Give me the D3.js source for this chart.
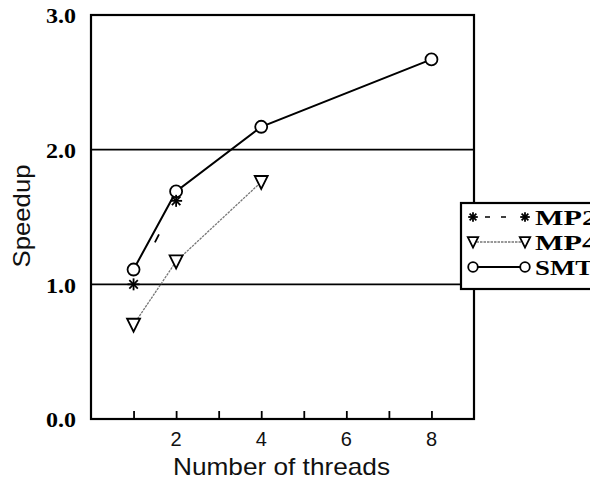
<!DOCTYPE html>
<html>
<head>
<meta charset="utf-8">
<script src="https://cdn.jsdelivr.net/npm/d3@7"></script>
<style>
  html, body { margin: 0; padding: 0; background: #fff; overflow: hidden; }
  svg { display: block; }
</style>
</head>
<body>
<svg id="chart" width="590" height="481"></svg>
<script>
// Speedup versus number of threads for three configurations
const tickValues = [1, 2, 3, 4, 5, 6, 7, 8];
const tickLabels = ["2", "4", "6", "8"];
const yTickLabels = ["0.0", "1.0", "2.0", "3.0"];
const gridValues = [1, 2];

const mp2Threads = [1, 2];
const mp2Speedup = [1.00, 1.62];
const mp4Threads = [1, 2, 4];
const mp4Speedup = [0.70, 1.17, 1.76];
const smtThreads = [1, 2, 4, 8];
const smtSpeedup = [1.11, 1.69, 2.17, 2.67];

const seriesNames = ["MP2", "MP4", "SMT"];

const svg = d3.select("#chart");
const plotLeft = 91, plotRight = 474, plotTop = 15, plotBottom = 419;

const x = d3.scaleLinear().domain([0, 9]).range([plotLeft, plotRight]);
const y = d3.scaleLinear().domain([0, 3]).range([plotBottom, plotTop]);

const serif = "'Liberation Serif', 'Times New Roman', serif";
const sans = "'Liberation Sans', Arial, Helvetica, sans-serif";

// gridlines at whole speedup values
svg.append("g").selectAll("line").data(gridValues).join("line")
  .attr("x1", plotLeft).attr("x2", plotRight)
  .attr("y1", d => y(d)).attr("y2", d => y(d))
  .attr("stroke", "#000").attr("stroke-width", 1.6);

// x axis: short upward ticks, labels on even counts
const xAxis = d3.axisBottom(x).tickValues(tickValues).tickSize(-8).tickFormat("");
const gx = svg.append("g").attr("transform", `translate(0,${plotBottom})`).call(xAxis);
gx.select(".domain").remove();
gx.selectAll(".tick line").attr("stroke", "#000").attr("stroke-width", 1.8);

svg.append("g").selectAll("text").data(tickLabels).join("text")
  .attr("x", d => x(+d))
  .attr("y", 446)
  .attr("text-anchor", "middle")
  .attr("font-family", sans)
  .attr("font-size", 20)
  .attr("fill", "#111")
  .text(d => d);

// y tick labels (bold serif)
const yAxis = d3.axisLeft(y).tickValues(yTickLabels.map(Number)).tickSize(0)
  .tickFormat(d => d3.format(".1f")(d));
const gy = svg.append("g").attr("transform", `translate(${plotLeft - 15},0)`).call(yAxis);
gy.select(".domain").remove();
gy.selectAll(".tick text")
  .attr("x", 0)
  .attr("dy", "0.35em")
  .attr("text-anchor", "end")
  .attr("font-family", serif)
  .attr("font-weight", "bold")
  .attr("font-size", 22)
  .attr("fill", "#000")
  .attr("textLength", 30)
  .attr("lengthAdjust", "spacingAndGlyphs");

// frame
svg.append("rect")
  .attr("x", plotLeft).attr("y", plotTop)
  .attr("width", plotRight - plotLeft).attr("height", plotBottom - plotTop)
  .attr("fill", "none").attr("stroke", "#000").attr("stroke-width", 2.2);

// axis titles
svg.append("text")
  .attr("x", (173 + 390) / 2).attr("y", 475)
  .attr("text-anchor", "middle")
  .attr("font-family", sans).attr("font-size", 24)
  .attr("fill", "#111")
  .attr("textLength", 217).attr("lengthAdjust", "spacingAndGlyphs")
  .text("Number of threads");

svg.append("text")
  .attr("transform", "translate(30,216) rotate(-90)")
  .attr("text-anchor", "middle")
  .attr("font-family", sans).attr("font-size", 24)
  .attr("fill", "#111")
  .attr("textLength", 103).attr("lengthAdjust", "spacingAndGlyphs")
  .text("Speedup");

// marker drawing helpers (s = scale factor)
function asterisk(g, cx, cy, s = 1) {
  const r = 6 * s;
  const a = g.append("g").attr("transform", `translate(${cx},${cy})`);
  [0, 45, 90, 135].forEach(ang => {
    const t = ang * Math.PI / 180;
    a.append("line")
      .attr("x1", -r * Math.cos(t)).attr("y1", -r * Math.sin(t))
      .attr("x2", r * Math.cos(t)).attr("y2", r * Math.sin(t))
      .attr("stroke", "#000").attr("stroke-width", 1.8);
  });
}
function triangle(g, cx, cy, s = 1) {
  g.append("path")
    .attr("d", `M${cx - 6.5 * s},${cy - 6 * s} L${cx + 6.5 * s},${cy - 6 * s} L${cx},${cy + 7 * s} Z`)
    .attr("fill", "#fff").attr("stroke", "#000").attr("stroke-width", 1.8)
    .attr("stroke-linejoin", "miter");
}
function circle(g, cx, cy, s = 1) {
  g.append("circle").attr("cx", cx).attr("cy", cy).attr("r", 6 * s)
    .attr("fill", "#fff").attr("stroke", "#000").attr("stroke-width", 1.8);
}

const line = d3.line().x(d => x(d[0])).y(d => y(d[1]));
const zip = (a, b) => a.map((v, i) => [v, b[i]]);

const plot = svg.append("g");

// MP4: thin grey dotted line
plot.append("path").datum(zip(mp4Threads, mp4Speedup))
  .attr("d", line).attr("fill", "none")
  .attr("stroke", "#777").attr("stroke-width", 1.3)
  .attr("stroke-dasharray", "2.5 1");

// SMT: solid black line
plot.append("path").datum(zip(smtThreads, smtSpeedup))
  .attr("d", line).attr("fill", "none")
  .attr("stroke", "#000").attr("stroke-width", 2);

// MP2: sparse dashed line
plot.append("path").datum(zip(mp2Threads, mp2Speedup))
  .attr("d", line).attr("fill", "none")
  .attr("stroke", "#000").attr("stroke-width", 1.8)
  .attr("stroke-dasharray", "0 47 9 200");

zip(mp4Threads, mp4Speedup).forEach(d => triangle(plot, x(d[0]), y(d[1])));
zip(smtThreads, smtSpeedup).forEach(d => circle(plot, x(d[0]), y(d[1])));
zip(mp2Threads, mp2Speedup).forEach(d => asterisk(plot, x(d[0]), y(d[1])));

// legend
const legend = svg.append("g");
legend.append("rect")
  .attr("x", 461).attr("y", 203).attr("width", 160).attr("height", 86)
  .attr("fill", "#fff").attr("stroke", "#000").attr("stroke-width", 2.2);

const rowY = [217, 242, 267];
const lx1 = 473, lx2 = 525, ms = 0.8;
// MP2 row
legend.append("line").attr("x1", lx1).attr("x2", lx2).attr("y1", rowY[0]).attr("y2", rowY[0])
  .attr("stroke", "#000").attr("stroke-width", 1.6).attr("stroke-dasharray", "0 12 5 11 5 100");
asterisk(legend, lx1, rowY[0], ms);
asterisk(legend, lx2, rowY[0], ms);
// MP4 row
legend.append("line").attr("x1", lx1).attr("x2", lx2).attr("y1", rowY[1]).attr("y2", rowY[1])
  .attr("stroke", "#777").attr("stroke-width", 1.3).attr("stroke-dasharray", "2.5 1");
triangle(legend, lx1, rowY[1], ms);
triangle(legend, lx2, rowY[1], ms);
// SMT row
legend.append("line").attr("x1", lx1).attr("x2", lx2).attr("y1", rowY[2]).attr("y2", rowY[2])
  .attr("stroke", "#000").attr("stroke-width", 2);
circle(legend, lx1, rowY[2], ms);
circle(legend, lx2, rowY[2], ms);

legend.selectAll("text.name").data(seriesNames).join("text")
  .attr("class", "name")
  .attr("x", 535)
  .attr("y", (d, i) => rowY[i] + 8)
  .attr("font-family", serif).attr("font-weight", "bold").attr("font-size", 22)
  .attr("fill", "#000")
  .attr("textLength", (d, i) => i === 2 ? 58 : 62)
  .attr("lengthAdjust", "spacingAndGlyphs")
  .text(d => d);
</script>
</body>
</html>
